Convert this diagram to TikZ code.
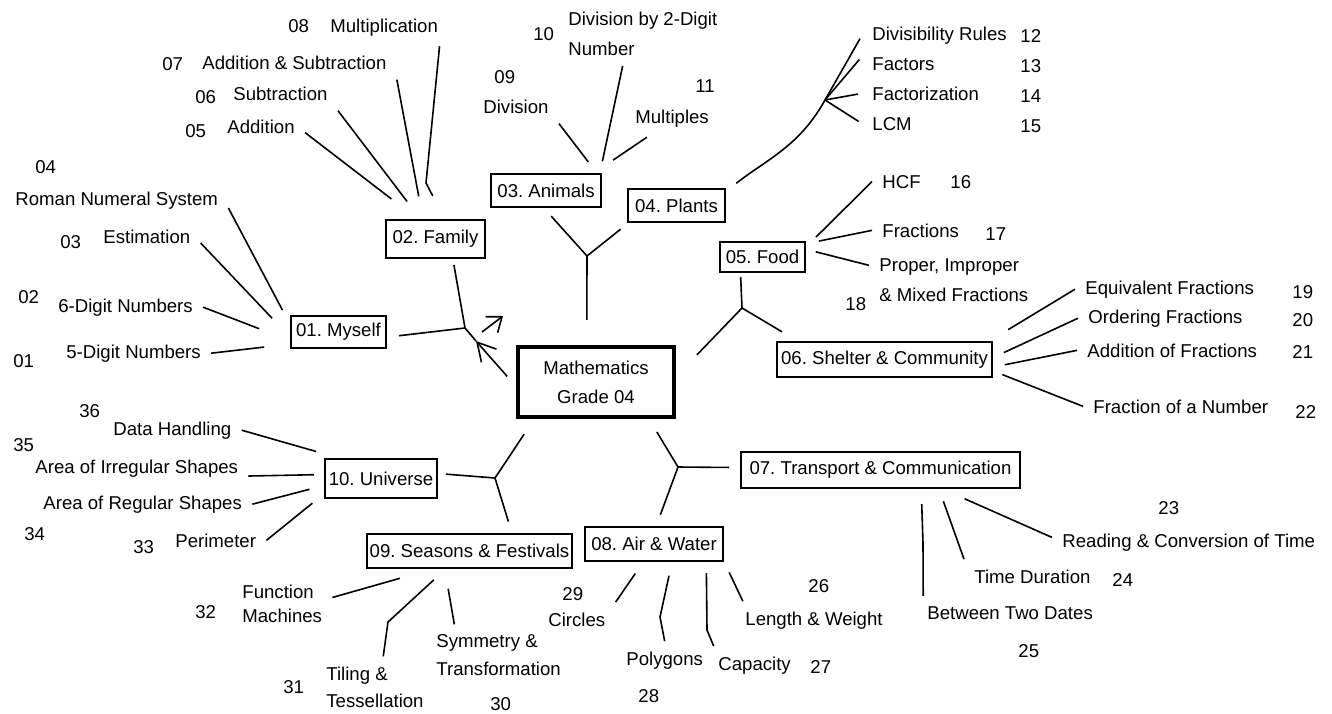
\documentclass[tikz,border=0pt]{standalone}
\usepackage{fontspec}
\setmainfont{Liberation Sans}
\usetikzlibrary{arrows.meta}
\frenchspacing

\begin{document}
\begin{tikzpicture}[x=0.5pt,y=-0.5pt,
	every node/.style={font=\fontsize{9.3}{11}\selectfont},
	topic/.style={draw,line width=1pt,inner xsep=1.5pt,inner ysep=0pt},
	leaf/.style={inner sep=5pt,anchor=base west,xshift=-5pt},
	leafml/.style={inner sep=5pt,anchor=north west,xshift=-5pt,yshift=5pt,align=left},
	twig/.style={line width=0.8pt}]
	\path[use as bounding box,fill=white] (0,0) rectangle (1332,713);

	\node[draw,line width=2.2pt,minimum width=78pt,minimum height=35pt,align=center,
		font=\fontsize{9.3}{14.5}\selectfont] (math) at (596,382) {Mathematics\\Grade 04};
	\node[topic,minimum width=47.5pt,minimum height=16pt] (myself) at (338.5,332) {01. Myself};
	\node[topic,minimum width=49.5pt,minimum height=19pt] (family) at (435.5,239) {02. Family};
	\node[topic,minimum width=55pt,minimum height=16.5pt] (animals) at (546,190.5) {03. Animals};
	\node[topic,minimum width=48.5pt,minimum height=16.5pt] (plants) at (676.5,205.5) {04. Plants};
	\node[topic,minimum width=42.5pt,minimum height=15pt] (food) at (762.5,257) {05. Food};
	\node[topic,minimum width=107.5pt,minimum height=17.5pt] (shelter) at (884.5,359.5) {06. Shelter \& Community};
	\node[topic,minimum width=139.5pt,minimum height=18pt] (transport) at (880.5,470) {07. Transport \& Communication};
	\node[topic,minimum width=69pt,minimum height=17pt] (air) at (654,544) {08. Air \& Water};
	\node[topic,minimum width=101.5pt,minimum height=17pt] (seasons) at (469.5,551) {09. Seasons \& Festivals};
	\node[topic,minimum width=56pt,minimum height=19.5pt] (universe) at (381,478.5) {10. Universe};

	\node[leaf] (five) at (66,358) {5-Digit Numbers};
	\node[leaf] (six) at (58,312) {6-Digit Numbers};
	\node[leaf] (est) at (103,243) {Estimation};
	\node[leaf] (roman) at (15,205) {Roman Numeral System};
	\node[leaf] (add) at (227,133) {Addition};
	\node[leaf] (sub) at (233,100) {Subtraction};
	\node[leaf] (addsub) at (202,69) {Addition \& Subtraction};
	\node[leaf] (mul) at (330,32) {Multiplication};
	\node[leaf] (div) at (483,113) {Division};
	\node[leafml,font=\fontsize{9.3}{15}\selectfont] (divtwo) at (568,11.4) {Division by 2-Digit\\Number};
	\node[leaf] (mlt) at (635,123) {Multiples};
	\node[leaf] (divr) at (872,40) {Divisibility Rules};
	\node[leaf] (fac) at (872,70) {Factors};
	\node[leaf] (fzn) at (872,100) {Factorization};
	\node[leaf] (lcm) at (872,130) {LCM};
	\node[leaf] (hcf) at (882,188) {HCF};
	\node[leaf] (frac) at (882,237) {Fractions};
	\node[leafml,font=\fontsize{9.3}{15}\selectfont] (prop) at (879,258.4) {Proper, Improper\\\& Mixed Fractions};
	\node[leaf] (equiv) at (1085,294) {Equivalent Fractions};
	\node[leaf] (ord) at (1088,323) {Ordering Fractions};
	\node[leaf] (addf) at (1087,357) {Addition of Fractions};
	\node[leaf] (fnum) at (1093,413) {Fraction of a Number};
	\node[leaf] (read) at (1062,547) {Reading \& Conversion of Time};
	\node[leaf] (td) at (974,583) {Time Duration};
	\node[leaf] (btd) at (927,619) {Between Two Dates};
	\node[leaf] (len) at (745,625) {Length \& Weight};
	\node[leaf] (cap) at (718,670) {Capacity};
	\node[leaf] (poly) at (626,665) {Polygons};
	\node[leaf] (circ) at (548,626) {Circles};
	\node[leafml,font=\fontsize{9.3}{14}\selectfont] (sym) at (436,634.4) {Symmetry \&\\Transformation};
	\node[leafml,font=\fontsize{9.3}{13.5}\selectfont] (til) at (326,666.4) {Tiling \&\\Tessellation};
	\node[leafml,font=\fontsize{9.3}{12}\selectfont] (func) at (242,584.4) {Function\\Machines};
	\node[leaf] (peri) at (175,547) {Perimeter};
	\node[leaf] (reg) at (43,509) {Area of Regular Shapes};
	\node[leaf] (irr) at (35,473) {Area of Irregular Shapes};
	\node[leaf] (data) at (113,435) {Data Handling};

	\foreach \n/\u/\v in {01/13/367,02/18/303,03/60/248,04/35/173,05/185/137,06/195/103,
		07/162/70,08/288/32,09/494/83,10/533/40,11/695/92,12/1020/42,13/1020/72,14/1020/102,
		15/1020/132,16/950/188,17/985/240,18/845/310,19/1292/298,20/1292/326,21/1292/358,
		22/1295/418,23/1158/514,24/1112/586,25/1018/657,26/808/592,27/810/673,28/638/702,
		29/562/600,30/490/710,31/283/693,32/195/618,33/133/553,34/24/540,35/13/451,36/79/417}
		\node[leaf] (n\n) at (\u,\v) {\n};

	\coordinate (lj) at (465,328);
	\coordinate (mtip) at (476,341);
	\coordinate (atail) at (482,332);
	\coordinate (ahead) at (503,316);
	\coordinate (jt) at (587,256);
	\coordinate (jr) at (742,308);
	\coordinate (jb) at (678,467);
	\coordinate (jl) at (495,478);
	\coordinate (pj) at (825,100);
	\coordinate (mulk) at (426,183);
	\coordinate (btdk) at (923,543);
	\coordinate (polyk) at (660,617);
	\coordinate (capk) at (707,630);
	\coordinate (tilk) at (388,622);

	\draw[twig,shorten <=6pt] (myself.-6) -- (lj);
	\draw[twig,shorten <=3pt] (family.-49) -- (lj);
	\draw[twig] (lj) -- (mtip);
	\draw[twig,shorten <=6.5pt,-{Straight Barb[length=9pt,width=10pt]}] (math.183) -- (mtip);
	\draw[twig,-{Straight Barb[length=6.5pt,width=10pt]}] (atail) -- (ahead);

	\draw[twig,shorten <=12.5pt] (math.104) -- (jt);
	\draw[twig,shorten >=5.5pt] (jt) -- (animals.-97);
	\draw[twig,shorten >=5pt] (jt) -- (plants.200);
	\draw[twig,shorten <=15pt] (math.4) -- (jr);
	\draw[twig,shorten >=2pt] (jr) -- (food.216);
	\draw[twig,shorten >=9pt] (jr) -- (shelter.168);
	\draw[twig,shorten <=7.5pt] (math.-35) -- (jb);
	\draw[twig,shorten >=5.5pt] (jb) -- (transport.179);
	\draw[twig,shorten >=6pt] (jb) -- (air.83);
	\draw[twig,shorten <=9pt] (math.211) -- (jl);
	\draw[twig,shorten >=4pt] (jl) -- (universe.5);
	\draw[twig,shorten >=6pt] (jl) -- (seasons.23);

	\draw[twig,shorten >=13pt] (five.east) -- (myself.194);
	\draw[twig,shorten >=16.5pt] (six.east) -- (myself.190);
	\draw[twig,shorten >=13pt] (est.-7) -- (myself.186);
	\draw[twig,shorten >=8pt] (roman.-4) -- (myself.171);
	\draw[twig,shorten >=16.5pt] (add.-8) -- (family.132);
	\draw[twig,shorten >=11pt] (sub.south east) -- (family.127);
	\draw[twig,shorten >=11.5pt] (addsub.south east) -- (family.122);
	\draw[twig,shorten >=13pt] (mul.-19) -- (mulk) -- (family.65);
	\draw[twig,shorten >=7pt] (div.south east) -- (animals.19);
	\draw[twig,shorten >=6pt] (divtwo.238) -- (animals.18);
	\draw[twig,shorten >=11.5pt] (mlt.217) -- (animals.20);
	\draw[twig,shorten <=6.5pt] (plants.16) to[out=38,in=241] (pj);
	\draw[twig,shorten >=2pt] (pj) -- (divr.west);
	\draw[twig,shorten >=2pt] (pj) -- (fac.170);
	\draw[twig,shorten >=2pt] (pj) -- (fzn.west);
	\draw[twig,shorten >=2pt] (pj) -- (lcm.west);
	\draw[twig,shorten >=7pt] (hcf.west) -- (food.13);
	\draw[twig,shorten >=6.5pt] (frac.west) -- (food.17);
	\draw[twig,shorten >=5pt] (prop.170) -- (food.10);
	\draw[twig,shorten >=11pt] (equiv.west) -- (shelter.10);
	\draw[twig,shorten >=6pt] (ord.west) -- (shelter.1);
	\draw[twig,shorten >=6pt] (addf.west) -- (shelter.-4);
	\draw[twig,shorten >=5pt] (fnum.west) -- (shelter.-6);
	\draw[twig,shorten >=12pt] (read.178) -- (transport.-17);
	\draw[twig,shorten >=6.5pt] (td.north west) -- (transport.-18);
	\draw[twig,shorten >=7.5pt] (btd.169) -- (btdk) -- (transport.-25);
	\draw[twig,shorten >=6pt] (len.165) -- (air.-14);
	\draw[twig,shorten >=5.5pt] (cap.155) -- (capk) -- (air.-19);
	\draw[twig,shorten >=7pt] (poly.north) -- (polyk) -- (air.-45);
	\draw[twig,shorten >=7pt] (circ.north east) -- (air.239);
	\draw[twig,shorten >=10pt] (sym.145) -- (seasons.216);
	\draw[twig,shorten >=8pt] (til.75) -- (tilk) -- (seasons.217);
	\draw[twig,shorten >=17pt] (func.7) -- (seasons.206);
	\draw[twig,shorten >=7.5pt] (peri.east) -- (universe.195);
	\draw[twig,shorten >=7.5pt] (reg.east) -- (universe.187);
	\draw[twig,shorten >=5pt] (irr.-4) -- (universe.176);
	\draw[twig,shorten >=12pt] (data.east) -- (universe.154);
\end{tikzpicture}
\end{document}
